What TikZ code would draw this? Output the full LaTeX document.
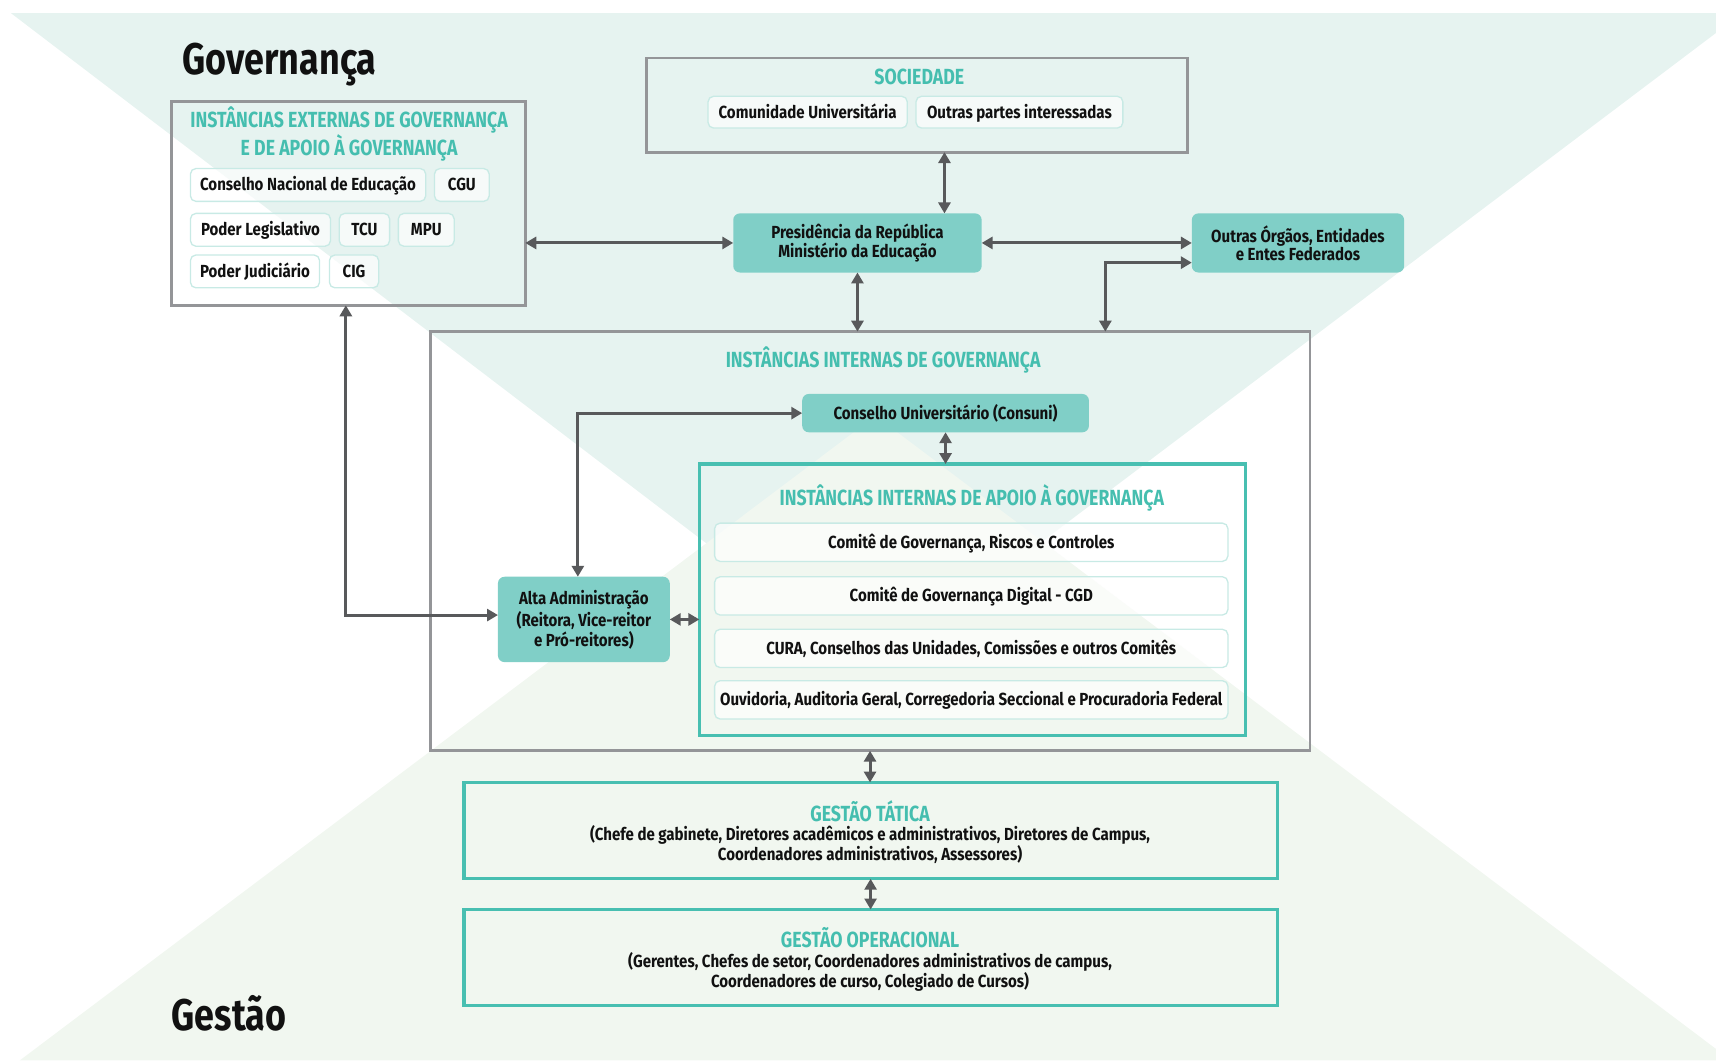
\documentclass[tikz,border=0pt]{standalone}
\usepackage{fontspec}
\setmainfont{Fira Sans}[FakeStretch=0.86]
\newfontfamily\titlefam{Fira Sans}[FakeStretch=0.81]
\usetikzlibrary{arrows.meta,calc}
\newcommand\mybody{\fontsize{16}{16.5}\selectfont\bfseries}
\newcommand\mytitle{\titlefam\fontsize{20}{23}\selectfont\bfseries}
\newcommand\mybig{\titlefam\fontsize{40.5}{44}\selectfont\bfseries}
\definecolor{bgtop}{HTML}{E6F3F0}
\definecolor{bgbot}{HTML}{F1F7F0}
\definecolor{grayb}{HTML}{949598}
\definecolor{tealb}{HTML}{48BFB1}
\definecolor{tealtxt}{HTML}{45BEAF}
\definecolor{tealfill}{HTML}{80CFC7}
\definecolor{pillb}{HTML}{C8EAE5}
\definecolor{arrowc}{HTML}{58595B}
\definecolor{txt}{HTML}{111111}
\begin{document}
\begin{tikzpicture}[x=1pt,y=-1pt,
  every node/.style={inner sep=0pt, outer sep=0pt, font=\mybody, text=txt},
  grayframe/.style={draw=grayb, line width=2.6pt},
  tealframe/.style={draw=tealb, line width=3pt},
  pill/.style={draw=pillb, line width=1.2pt, fill=white, fill opacity=0.65, text opacity=1, rounded corners=5pt, text height=11.5pt, text depth=0.5pt},
  filledbox/.style={fill=tealfill, rounded corners=6pt, align=center},
  ttl/.style={font=\mytitle, text=tealtxt, align=center},
  body/.style={align=center},
  biarrow/.style={draw=arrowc, line width=2.7pt, <->, >={Triangle[length=10pt,width=11pt]}},
]
\useasboundingbox (0,0) rectangle (1568,971);
% background
\begin{scope}
\clip (0,0) rectangle (1568,971);
\fill[bgtop] (10,12) -- (1592,12) -- (797,612) -- cycle;
\fill[bgbot] (18,969) -- (1582,969) -- (800,380) -- cycle;
\end{scope}

% big titles
\node[anchor=base west, font=\mybig] (tgov) at (167,68) {Governança};
\node[anchor=base west, font=\mybig] (tges) at (157,942) {Gestão};

% external governance
\node[grayframe, minimum width=323, minimum height=186] (gov) at (318.5,186) {};
\node[ttl] (govt) at (319,122.5) {INSTÂNCIAS EXTERNAS DE GOVERNANÇA\\E DE APOIO À GOVERNANÇA};
\node[pill, minimum width=215, minimum height=30] (cne) at (281.5,169) {Conselho Nacional de Educação};
\node[pill, minimum width=50, minimum height=30] (cgu) at (422,169) {CGU};
\node[pill, minimum width=128, minimum height=30] (pl) at (238,210) {Poder Legislativo};
\node[pill, minimum width=46, minimum height=30] (tcu) at (333,210) {TCU};
\node[pill, minimum width=51, minimum height=30] (mpu) at (389.5,210) {MPU};
\node[pill, minimum width=118, minimum height=30] (pj) at (233,248) {Poder Judiciário};
\node[pill, minimum width=45, minimum height=30] (cig) at (323.5,248) {CIG};

% sociedade
\node[grayframe, minimum width=494, minimum height=86] (soc) at (838,96) {};
\node[ttl] (soct) at (840,70) {SOCIEDADE};
\node[pill, minimum width=182, minimum height=29] (cu) at (738,102.5) {Comunidade Universitária};
\node[pill, minimum width=189, minimum height=29] (op) at (931.5,102.5) {Outras partes interessadas};

% presidencia & outras
\node[filledbox, minimum width=227, minimum height=54] (pres) at (783.5,222) {Presidência da República\\Ministério da Educação};
\node[filledbox, minimum width=194, minimum height=54] (outras) at (1186,222) {Outras Órgãos, Entidades\\e Entes Federados};

% internal governance
\node[grayframe, minimum width=804, minimum height=383] (igov) at (795,494.5) {};
\node[ttl] (igovt) at (807,329) {INSTÂNCIAS INTERNAS DE GOVERNANÇA};
\node[filledbox, minimum width=262, minimum height=35] (cons) at (864,377.5) {Conselho Universitário (Consuni)};

\node[tealframe, minimum width=499, minimum height=248] (sup) at (888.5,548) {};
\node[ttl] (supt) at (888,455) {INSTÂNCIAS INTERNAS DE APOIO À GOVERNANÇA};
\node[pill, minimum width=469, minimum height=35] (r1) at (887.5,495.5) {Comitê de Governança, Riscos e Controles};
\node[pill, minimum width=469, minimum height=35] (r2) at (887.5,544.5) {Comitê de Governança Digital - CGD};
\node[pill, minimum width=469, minimum height=35] (r3) at (887.5,592.5) {CURA, Conselhos das Unidades, Comissões e outros Comitês};
\node[pill, minimum width=469, minimum height=35] (r4) at (887.5,639.5) {Ouvidoria, Auditoria Geral, Corregedoria Seccional e Procuradoria Federal};

\node[filledbox, minimum width=157, minimum height=78] (alta) at (533.5,566) {Alta Administração\\[2pt](Reitora, Vice-reitor\\e Pró-reitores)};

% gestao
\node[tealframe, minimum width=743, minimum height=88] (tat) at (795.5,759) {};
\node[ttl] (tatt) at (795,741) {GESTÃO TÁTICA};
\node[body] (tatb) at (795,771.5) {(Chefe de gabinete, Diretores acadêmicos e administrativos, Diretores de Campus,\\Coordenadores administrativos, Assessores)};
\node[tealframe, minimum width=743, minimum height=88] (opr) at (795.5,875) {};
\node[ttl] (oprt) at (795,857) {GESTÃO OPERACIONAL};
\node[body] (oprb) at (795,888) {(Gerentes, Chefes de setor, Coordenadores administrativos de campus,\\Coordenadores de curso, Colegiado de Cursos)};

% connectors
\draw[biarrow] (pres.west -| gov.east) -- (pres.west);
\draw[biarrow] ([xshift=79.5pt]pres.north) -- ([xshift=79.5pt]pres.north |- soc.south);
\draw[biarrow] (pres.east) -- (outras.west);
\draw[biarrow] (pres.south) -- (pres.south |- igov.north);
\draw[biarrow] ([yshift=-18pt]outras.west) -| ([xshift=215pt]igov.north);
\draw[biarrow] ([yshift=4pt]alta.west) -| ([xshift=-2.5pt]gov.south);
\draw[biarrow] (cons.west) -| ([xshift=-5.5pt]alta.north);
\draw[biarrow] (cons.south) -- (cons.south |- sup.north);
\draw[biarrow] (alta.east) -- (alta.east -| sup.west);
\draw[biarrow] (igov.south) -- (igov.south |- tat.north);
\draw[biarrow] (tat.south) -- (tat.south |- opr.north);
\end{tikzpicture}
\end{document}
